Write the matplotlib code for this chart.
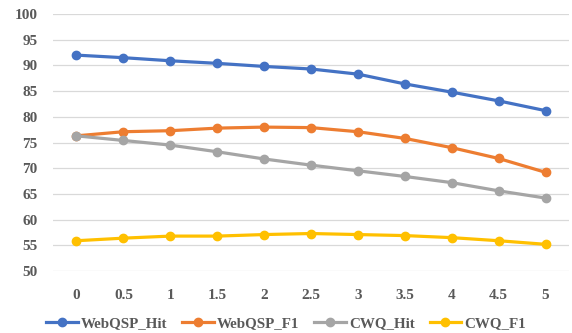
import matplotlib

matplotlib.use("Agg")
import matplotlib.pyplot as plt

# x categories and series values
x_labels = ["0", "0.5", "1", "1.5", "2", "2.5", "3", "3.5", "4", "4.5", "5"]
webqsp_hit = [92.0, 91.5, 90.9, 90.4, 89.8, 89.3, 88.3, 86.4, 84.8, 83.1, 81.2]
webqsp_f1 = [76.3, 77.1, 77.3, 77.8, 78.0, 77.9, 77.1, 75.8, 74.0, 71.9, 69.2]
cwq_hit = [76.3, 75.4, 74.5, 73.2, 71.8, 70.6, 69.5, 68.4, 67.2, 65.6, 64.2]
cwq_f1 = [55.9, 56.4, 56.8, 56.8, 57.1, 57.3, 57.1, 56.9, 56.5, 55.9, 55.2]

series = [
    ("WebQSP_Hit", webqsp_hit, "#4472C4"),
    ("WebQSP_F1", webqsp_f1, "#ED7D31"),
    ("CWQ_Hit", cwq_hit, "#A5A5A5"),
    ("CWQ_F1", cwq_f1, "#FFC000"),
]

font = dict(family="Liberation Serif", weight="bold", size=11, color="#595959")

fig = plt.figure(figsize=(5.72, 3.33), dpi=100)
ax = fig.add_axes([0.0927, 0.186, 0.9021, 0.772])

xs = list(range(len(x_labels)))
for name, vals, col in series:
    ax.plot(xs, vals, color=col, lw=2.3, marker="o", ms=6, label=name)

ax.set_xlim(-0.5, len(x_labels) - 0.5)
ax.set_ylim(50, 100)
ax.set_yticks(range(50, 101, 5))
ax.set_xticks(xs)
ax.set_xticklabels(x_labels)
ax.grid(axis="y", color="#D9D9D9", lw=0.9)
ax.set_axisbelow(True)
for s in ax.spines.values():
    s.set_visible(False)
ax.tick_params(axis="both", length=0)
ax.tick_params(axis="x", pad=13)
ax.tick_params(axis="y", pad=11)
for lab in ax.get_xticklabels() + ax.get_yticklabels():
    lab.set_fontfamily(font["family"])
    lab.set_fontweight(font["weight"])
    lab.set_fontsize(font["size"])
    lab.set_color(font["color"])

leg = fig.legend(
    loc="center",
    bbox_to_anchor=(0.5, 1 - 323 / 333),
    ncol=4,
    frameon=False,
    handlelength=2.1,
    handletextpad=0.2,
    columnspacing=1.0,
    prop=dict(family="Liberation Serif", weight="bold", size=10.8),
)
for t in leg.get_texts():
    t.set_color("#595959")

fig.savefig("out.png", dpi=100, facecolor="white")
